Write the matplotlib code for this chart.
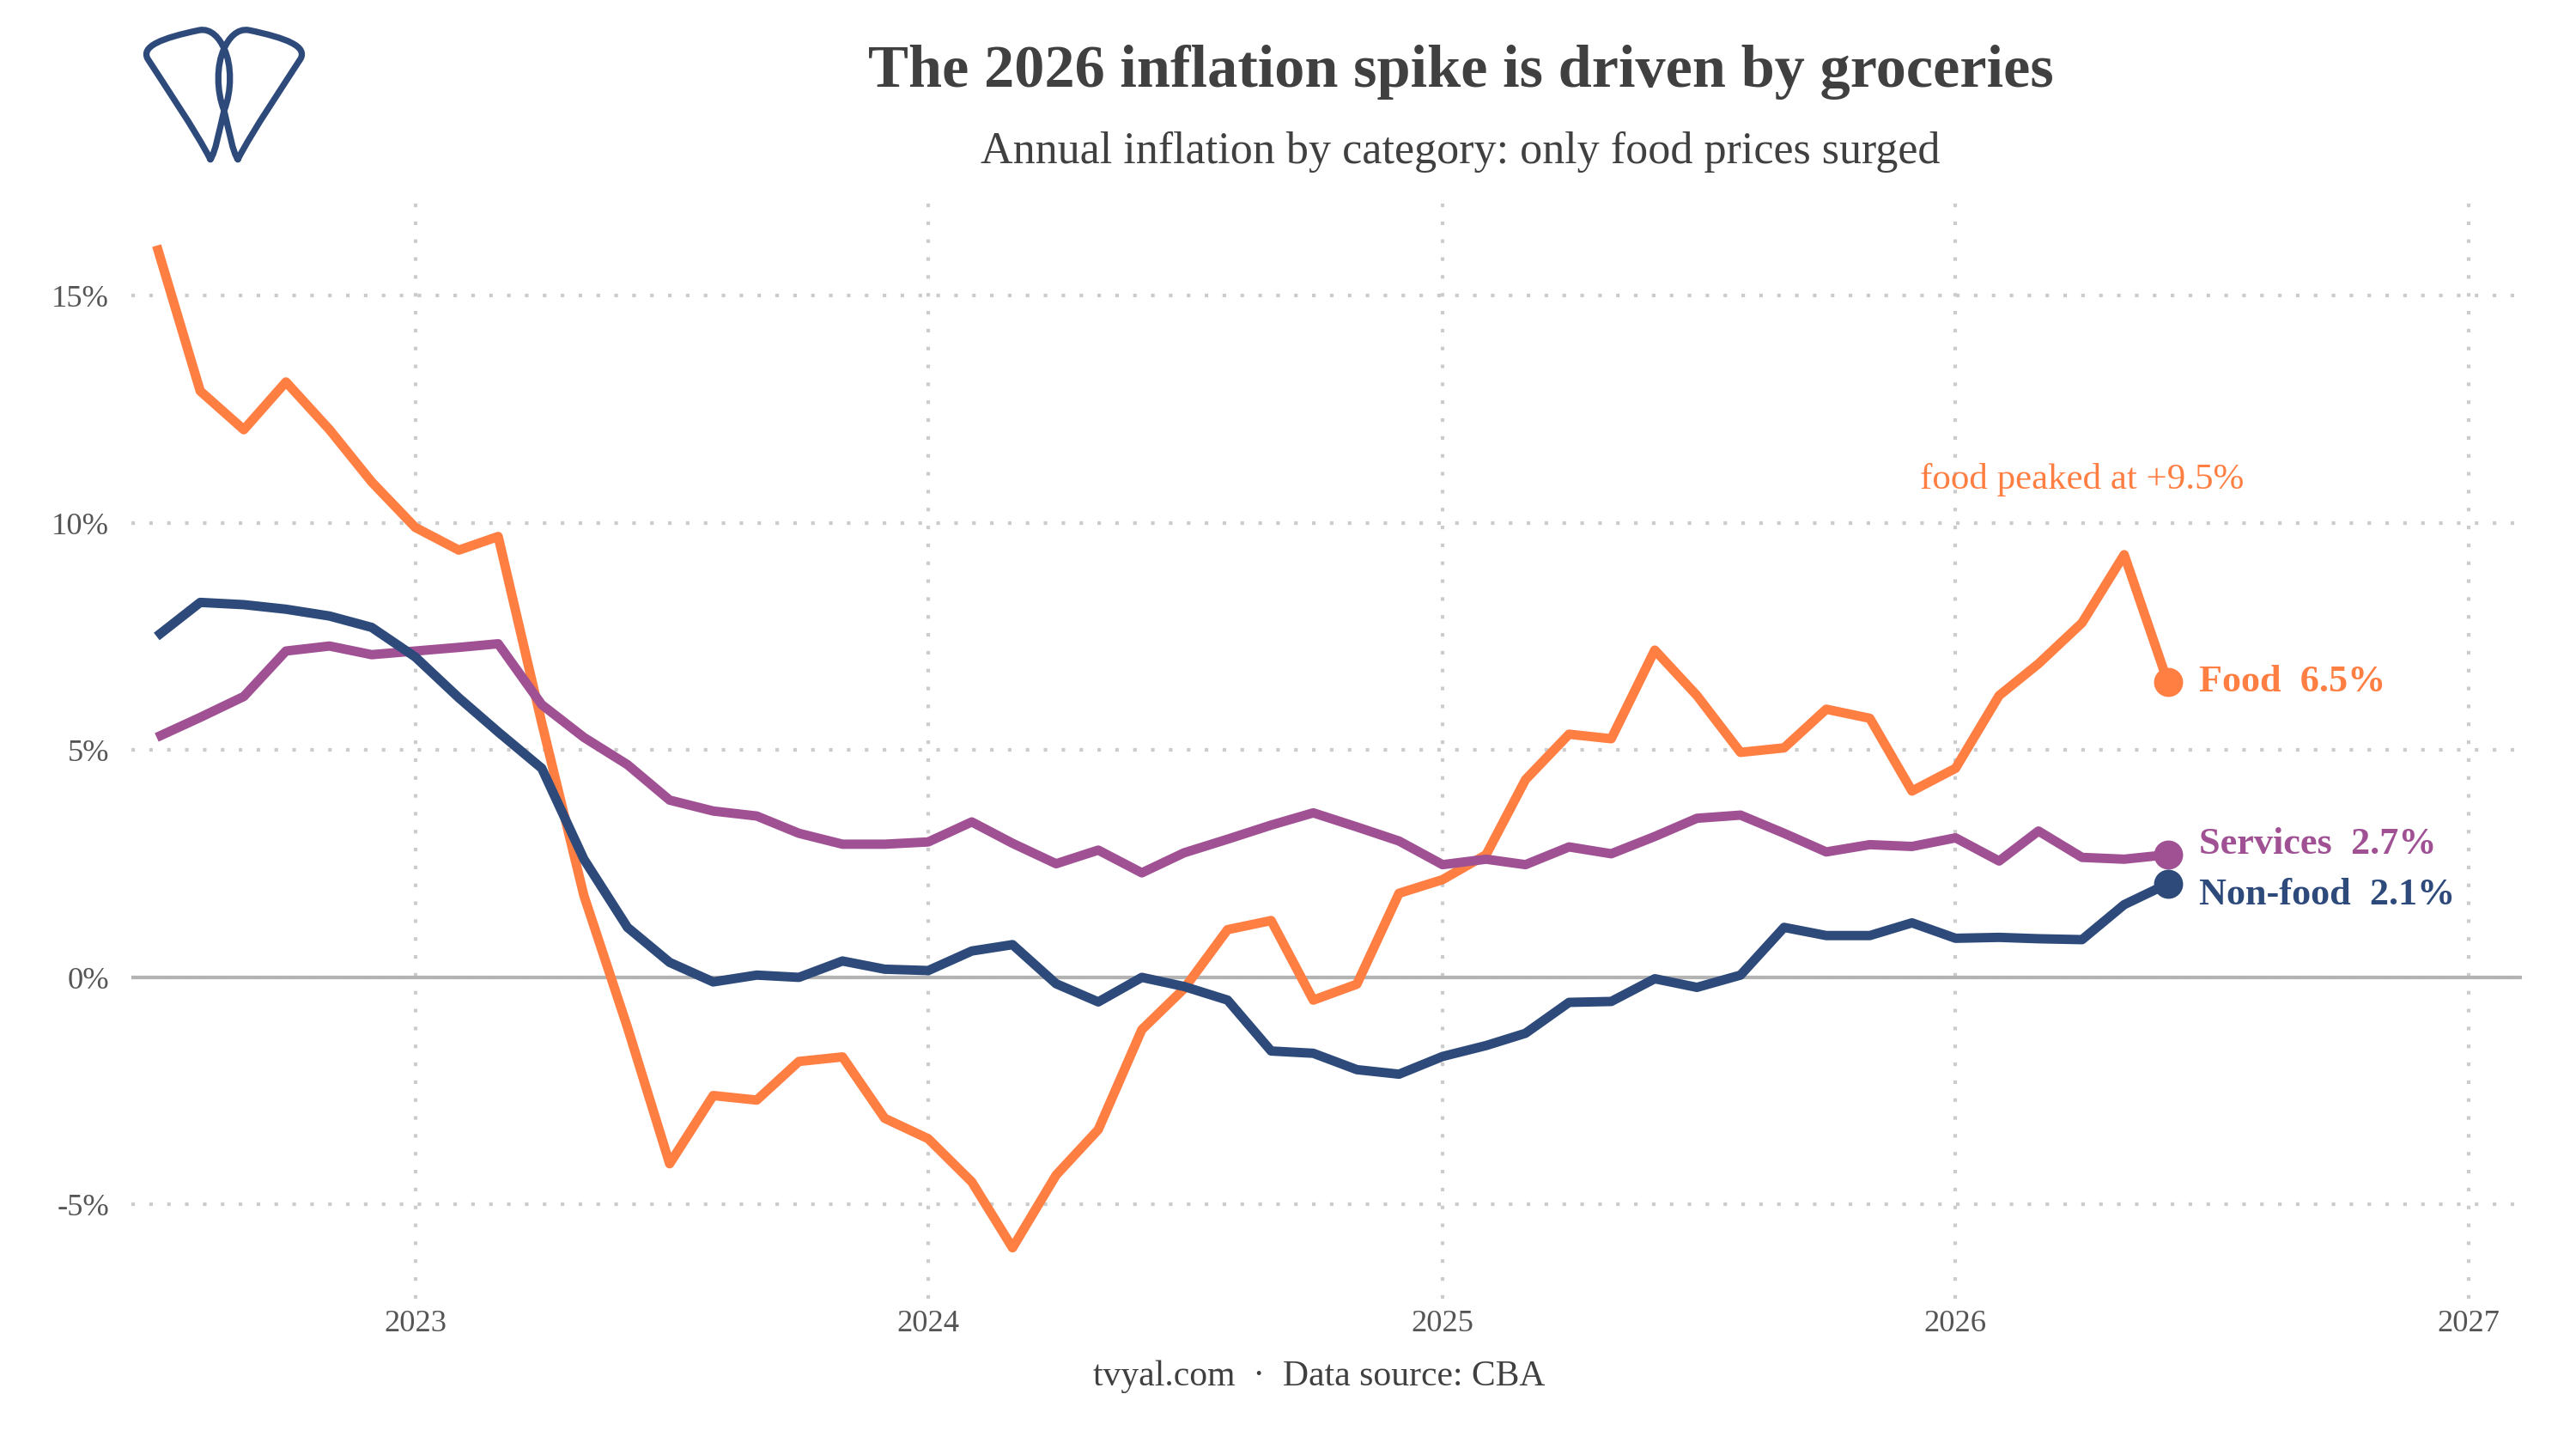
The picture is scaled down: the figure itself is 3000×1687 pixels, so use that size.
import matplotlib
matplotlib.use("Agg")
import matplotlib.pyplot as plt
import matplotlib.dates as mdates
from matplotlib.path import Path
from matplotlib.patches import PathPatch
import pandas as pd
import numpy as np

# ---------------- data ----------------
months = pd.date_range("2022-07-01", "2026-06-01", freq="MS")

food = [16.1, 12.9, 12.05, 13.1, 12.05, 10.9,
        9.9, 9.4, 9.7, 5.6, 1.8, -1.1, -4.1, -2.6, -2.7, -1.85, -1.75, -3.1,
        -3.55, -4.5, -5.95, -4.35, -3.35, -1.15, -0.25, 1.05, 1.25, -0.5, -0.15, 1.85,
        2.15, 2.7, 4.35, 5.35, 5.25, 7.2, 6.2, 4.95, 5.05, 5.9, 5.7, 4.1,
        4.6, 6.2, 6.9, 7.8, 9.3, 6.5]

nonfood = [7.5, 8.25, 8.2, 8.1, 7.95, 7.7,
           7.05, 6.15, 5.4, 4.6, 2.6, 1.1, 0.33, -0.1, 0.05, 0.0, 0.36, 0.18,
           0.15, 0.58, 0.72, -0.14, -0.54, 0.0, -0.2, -0.5, -1.62, -1.67, -2.03, -2.13,
           -1.74, -1.5, -1.23, -0.55, -0.53, -0.03, -0.22, 0.05, 1.1, 0.92, 0.92, 1.2,
           0.86, 0.88, 0.85, 0.83, 1.6, 2.06]

services = [5.28, 5.72, 6.18, 7.18, 7.29, 7.1,
            7.18, 7.26, 7.34, 6.0, 5.28, 4.68, 3.9, 3.66, 3.55, 3.17, 2.93, 2.93,
            2.98, 3.42, 2.95, 2.5, 2.8, 2.3, 2.74, 3.04, 3.35, 3.62, 3.31, 3.0,
            2.48, 2.6, 2.48, 2.87, 2.72, 3.1, 3.5, 3.57, 3.17, 2.76, 2.92, 2.88,
            3.07, 2.56, 3.22, 2.64, 2.6, 2.7]

series_names = ["Food", "Services", "Non-food"]
series_values = [food, services, nonfood]
series_colors = ["#FF7F43", "#A05193", "#2E4A7B"]

y_ticks = [-5, 0, 5, 10, 15]
y_tick_labels = ["-5%", "0%", "5%", "10%", "15%"]

title = "The 2026 inflation spike is driven by groceries"
subtitle = "Annual inflation by category: only food prices surged"
caption = "tvyal.com  \u00b7  Data source: CBA"
peak_note = "food peaked at +9.5%"

# ---------------- style ----------------
FONT = ["Liberation Serif", "DejaVu Serif"]
plt.rcParams["font.family"] = FONT
TXT = "#404040"
TICK = "#555555"
label_nudge_pts = {"Food": 0, "Services": 5, "Non-food": -5}   # vertical label offsets (points)

fig = plt.figure(figsize=(16, 9), dpi=187.5)
ax = fig.add_axes([0.051, 0.104, 0.928, 0.762])

for name, vals, col in zip(series_names, series_values, series_colors):
    ax.plot(months, vals, color=col, lw=4.2, solid_capstyle="butt",
            solid_joinstyle="round", zorder=3)
    ax.plot(months[-1], vals[-1], "o", color=col, ms=12, zorder=4)
    ax.annotate(f"{name}  {vals[-1]:.1f}%", xy=(months[-1], vals[-1]),
                xytext=(14, label_nudge_pts[name]), textcoords="offset points",
                ha="left", va="center", color=col, fontsize=17,
                fontweight="bold", zorder=5)

ax.axhline(0, color="#B3B3B3", lw=1.6, zorder=2)

ax.annotate(peak_note, xy=(pd.Timestamp("2026-04-01"), 10.95),
            ha="center", va="center", color=series_colors[0], fontsize=16.5)

ax.set_ylim(-7.06, 17.24)
ax.set_xlim(pd.Timestamp("2022-06-13"), pd.Timestamp("2027-02-08"))
ax.set_yticks(y_ticks)
ax.set_yticklabels(y_tick_labels)
ax.xaxis.set_major_locator(mdates.YearLocator())
ax.xaxis.set_major_formatter(mdates.DateFormatter("%Y"))

ax.grid(True, color="#CCCCCC", lw=1.6, linestyle=(0, (1, 4)), zorder=1)
ax.set_axisbelow(True)
for s in ax.spines.values():
    s.set_visible(False)
ax.tick_params(length=0, labelsize=14, colors=TICK)
ax.tick_params(axis="y", pad=10)
ax.tick_params(axis="x", pad=5)

fig.text(0.567, 0.950, title, ha="center", va="center", fontsize=27,
         fontweight="bold", color=TXT)
fig.text(0.567, 0.895, subtitle, ha="center", va="center", fontsize=20,
         color=TXT)
fig.text(0.512, 0.050, caption, ha="center", va="center", fontsize=16,
         color=TXT)

# ---------------- logo (decorative) ----------------
lax = fig.add_axes([0, 0, 1, 1], zorder=10)
lax.set_xlim(0, 3000)
lax.set_ylim(1687, 0)
lax.axis("off")
lax.patch.set_alpha(0)

def teardrop(sign, cx=261.0):
    def p(x, y):
        return (cx + sign * (x - cx), 33 + (y - 47) * 0.654)
    verts = [p(245, 281),
             p(228, 230), p(190, 145), p(172, 102),
             p(164, 80), p(188, 65), p(232, 51),
             p(246, 47), p(256, 66), p(261, 84),
             p(270, 112), p(270, 160), p(261, 194),
             p(255, 232), p(251, 268), p(245, 281)]
    codes = [Path.MOVETO] + [Path.CURVE4] * 15
    return Path(verts, codes)

for sgn in (1, -1):
    lax.add_patch(PathPatch(teardrop(sgn), fill=False, edgecolor="#2E4A7B",
                            lw=2.8, capstyle="round", joinstyle="round"))

fig.savefig("out.png", dpi=187.5)
